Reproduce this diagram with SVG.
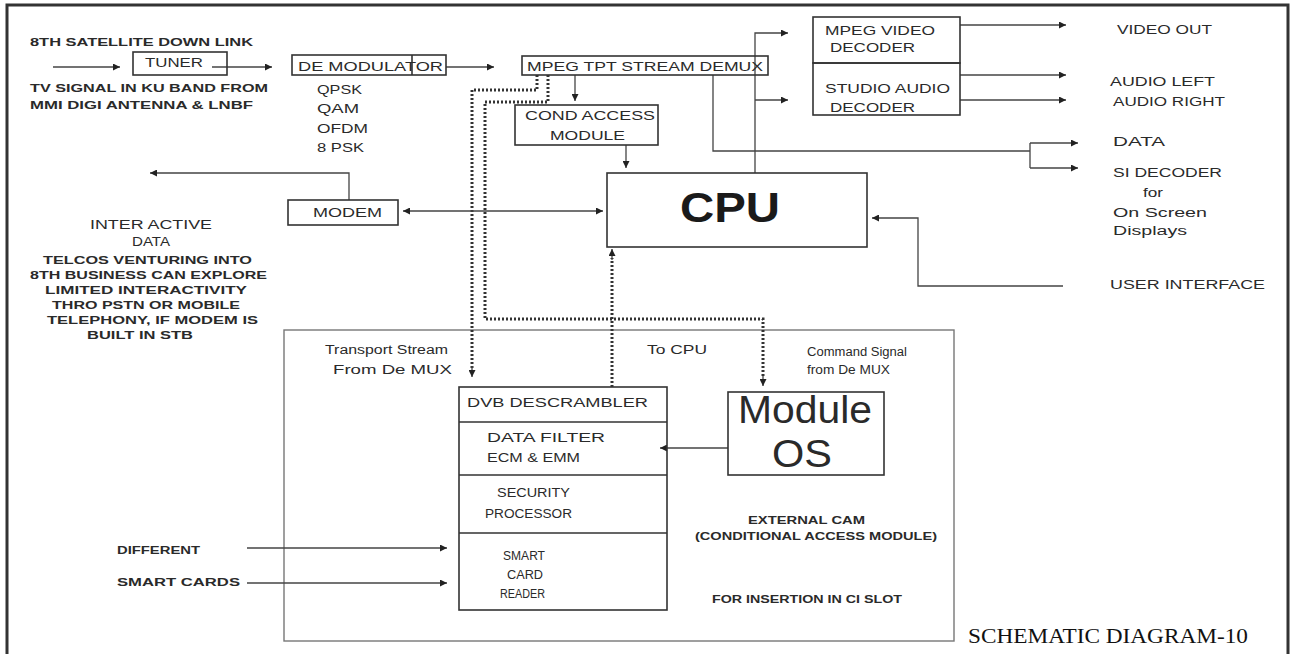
<svg xmlns="http://www.w3.org/2000/svg" width="1291" height="654" viewBox="0 0 1291 654">
<defs>
<style>
.bx{fill:none;stroke:#333;stroke-width:1.6}
.ln{fill:none;stroke:#444;stroke-width:1.3}
.dt{fill:none;stroke:#333;stroke-width:3;stroke-dasharray:2 2}
.t{font-family:"Liberation Sans",Arial,sans-serif;font-size:12px;fill:#2a2a2a}
.tb{font-family:"Liberation Sans",Arial,sans-serif;font-size:10px;font-weight:bold;fill:#2a2a2a}
.tm{font-family:"Liberation Sans",Arial,sans-serif;font-size:13px;fill:#2a2a2a}
.big{font-family:"Liberation Sans",Arial,sans-serif;font-size:38px;fill:#2a2a2a}
</style>
<marker id="arr" viewBox="0 0 10 10" refX="10" refY="5" markerWidth="9" markerHeight="7" markerUnits="userSpaceOnUse" orient="auto-start-reverse">
<path d="M0,0 L10,5 L0,10 z" fill="#222"/>
</marker>
</defs>
<rect width="1291" height="654" fill="#fff"/>
<path d="M7,654 V5 H1288 V654" fill="none" stroke="#333" stroke-width="3"/>

<g id="container-cam">
<rect x="284" y="330" width="670" height="311" fill="none" stroke="#777" stroke-width="1.4"/>
<text class="tb" x="748" y="524" textLength="117" lengthAdjust="spacingAndGlyphs">EXTERNAL CAM</text>
<text class="tb" x="695" y="540" textLength="242" lengthAdjust="spacingAndGlyphs">(CONDITIONAL ACCESS MODULE)</text>
<text class="tb" x="712" y="603" textLength="190" lengthAdjust="spacingAndGlyphs">FOR INSERTION IN CI SLOT</text>
</g>

<g id="connectors">
<path class="ln" d="M53,67 H120" marker-end="url(#arr)"/>
<path class="ln" d="M212,67 H272" marker-end="url(#arr)"/>
<path class="ln" d="M446,67 H494" marker-end="url(#arr)"/>
<path class="dt" d="M537,75 V90 H472 V368"/>
<path class="ln" d="M472,366 V377" marker-end="url(#arr)"/>
<path class="dt" d="M548,75 V102 H485 V319 H763 V378"/>
<path class="ln" d="M763,376 V386" marker-end="url(#arr)"/>
<path class="ln" d="M575,75 V101" marker-end="url(#arr)"/>
<path class="ln" d="M626,145 V168" marker-end="url(#arr)"/>
<path class="dt" d="M612,387 V258"/>
<path class="ln" d="M612,260 V249" marker-end="url(#arr)"/>
<path class="ln" d="M713,75 V151 H1030 M1030,143 V168"/>
<path class="ln" d="M1030,143 H1078" marker-end="url(#arr)"/>
<path class="ln" d="M1030,168 H1078" marker-end="url(#arr)"/>
<path class="ln" d="M755,173 V33 H788" marker-end="url(#arr)"/>
<path class="ln" d="M755,100 H788" marker-end="url(#arr)"/>
<path class="ln" d="M960,25 H1066" marker-end="url(#arr)"/>
<path class="ln" d="M960,75 H1066" marker-end="url(#arr)"/>
<path class="ln" d="M960,100 H1066" marker-end="url(#arr)"/>
<path class="ln" d="M1063,286 H918 V218 H872" marker-end="url(#arr)"/>
<path class="ln" d="M403,211 H603" marker-start="url(#arr)" marker-end="url(#arr)"/>
<path class="ln" d="M349,200 V173 H150" marker-end="url(#arr)"/>
<path class="ln" d="M728,448 H660" marker-end="url(#arr)"/>
<path class="ln" d="M247,548 H447" marker-end="url(#arr)"/>
<path class="ln" d="M247,583 H447" marker-end="url(#arr)"/>
</g>

<g id="labels-input">
<text class="tb" x="30" y="46" font-size="11" textLength="223" lengthAdjust="spacingAndGlyphs">8TH SATELLITE DOWN LINK</text>
<text class="tb" x="30" y="92" font-size="11" textLength="238" lengthAdjust="spacingAndGlyphs">TV SIGNAL IN KU BAND FROM</text>
<text class="tb" x="30" y="109" font-size="11" textLength="223" lengthAdjust="spacingAndGlyphs">MMI DIGI ANTENNA &amp; LNBF</text>
</g>

<g id="node-tuner">
<rect class="bx" x="133" y="52" width="94" height="23"/>
<text class="tm" x="145" y="66.5" textLength="58" lengthAdjust="spacingAndGlyphs">TUNER</text>
</g>

<g id="node-demodulator">
<rect class="bx" x="292" y="55" width="154" height="20"/>
<path class="bx" d="M412,55 V75" stroke-width="1"/>
<text class="tm" x="298" y="70.5" textLength="145" lengthAdjust="spacingAndGlyphs">DE MODULATOR</text>
<text class="t" x="317" y="94.3" textLength="45" lengthAdjust="spacingAndGlyphs">QPSK</text>
<text class="t" x="317" y="113.3" textLength="42" lengthAdjust="spacingAndGlyphs">QAM</text>
<text class="t" x="317" y="133.3" textLength="51" lengthAdjust="spacingAndGlyphs">OFDM</text>
<text class="t" x="317" y="152.3" textLength="47" lengthAdjust="spacingAndGlyphs">8 PSK</text>
</g>

<g id="node-demux">
<rect class="bx" x="522" y="56" width="246" height="19"/>
<text class="tm" x="527" y="70.5" textLength="236" lengthAdjust="spacingAndGlyphs">MPEG TPT STREAM DEMUX</text>
</g>

<g id="node-cond-access">
<rect class="bx" x="515" y="105" width="143" height="40"/>
<text class="tm" x="525" y="119.7" textLength="130" lengthAdjust="spacingAndGlyphs">COND ACCESS</text>
<text class="tm" x="550" y="139.7" textLength="75" lengthAdjust="spacingAndGlyphs">MODULE</text>
</g>

<g id="node-video-decoder">
<rect class="bx" x="813" y="17" width="147" height="46"/>
<text class="tm" x="825" y="34.7" textLength="110" lengthAdjust="spacingAndGlyphs">MPEG VIDEO</text>
<text class="tm" x="830" y="51.7" textLength="85" lengthAdjust="spacingAndGlyphs">DECODER</text>
</g>

<g id="node-audio-decoder">
<rect class="bx" x="813" y="63" width="147" height="52"/>
<text class="tm" x="825" y="92.7" textLength="125" lengthAdjust="spacingAndGlyphs">STUDIO AUDIO</text>
<text class="tm" x="830" y="111.7" textLength="85" lengthAdjust="spacingAndGlyphs">DECODER</text>
</g>

<g id="labels-outputs">
<text class="t" x="1117" y="34.3" textLength="95" lengthAdjust="spacingAndGlyphs">VIDEO OUT</text>
<text class="t" x="1110" y="86.3" textLength="105" lengthAdjust="spacingAndGlyphs">AUDIO LEFT</text>
<text class="t" x="1113" y="106.3" textLength="112" lengthAdjust="spacingAndGlyphs">AUDIO RIGHT</text>
<text class="t" x="1113" y="146.3" textLength="52" lengthAdjust="spacingAndGlyphs">DATA</text>
<text class="t" x="1113" y="177.3" textLength="109" lengthAdjust="spacingAndGlyphs">SI DECODER</text>
<text class="t" x="1143" y="197" textLength="20" lengthAdjust="spacingAndGlyphs">for</text>
<text class="t" x="1113" y="217" textLength="94" lengthAdjust="spacingAndGlyphs">On Screen</text>
<text class="t" x="1113" y="235" textLength="74" lengthAdjust="spacingAndGlyphs">Displays</text>
<text class="t" x="1110" y="289.3" textLength="155" lengthAdjust="spacingAndGlyphs">USER INTERFACE</text>
</g>

<g id="node-cpu">
<rect class="bx" x="607" y="173" width="260" height="74" stroke-width="2"/>
<text x="730" y="222" text-anchor="middle" font-family="Liberation Sans, Arial, sans-serif" font-size="42" font-weight="bold" fill="#1a1a1a" textLength="100" lengthAdjust="spacingAndGlyphs">CPU</text>
</g>

<g id="node-modem">
<rect class="bx" x="288" y="200" width="110" height="25" stroke-width="2"/>
<text class="t" x="313" y="217.3" textLength="69" lengthAdjust="spacingAndGlyphs">MODEM</text>
</g>

<g id="labels-interactive">
<text class="t" x="90" y="229.3" textLength="122" lengthAdjust="spacingAndGlyphs">INTER ACTIVE</text>
<text class="t" x="132" y="246.3" textLength="38" lengthAdjust="spacingAndGlyphs">DATA</text>
<text class="tb" x="43" y="263.6" textLength="209" lengthAdjust="spacingAndGlyphs">TELCOS VENTURING INTO</text>
<text class="tb" x="30" y="278.6" textLength="237" lengthAdjust="spacingAndGlyphs">8TH BUSINESS CAN EXPLORE</text>
<text class="tb" x="45" y="293.6" textLength="202" lengthAdjust="spacingAndGlyphs">LIMITED INTERACTIVITY</text>
<text class="tb" x="52" y="308.6" textLength="188" lengthAdjust="spacingAndGlyphs">THRO PSTN OR MOBILE</text>
<text class="tb" x="47" y="323.6" textLength="211" lengthAdjust="spacingAndGlyphs">TELEPHONY, IF MODEM IS</text>
<text class="tb" x="87" y="338.6" textLength="106" lengthAdjust="spacingAndGlyphs">BUILT IN STB</text>
</g>

<g id="labels-signals">
<text class="t" x="325" y="354" textLength="123" lengthAdjust="spacingAndGlyphs">Transport Stream</text>
<text class="t" x="333" y="374" textLength="119" lengthAdjust="spacingAndGlyphs">From De MUX</text>
<text class="t" x="647" y="354" textLength="60" lengthAdjust="spacingAndGlyphs">To CPU</text>
<text class="t" x="807" y="356" textLength="100" lengthAdjust="spacingAndGlyphs">Command Signal</text>
<text class="t" x="807" y="374" textLength="83" lengthAdjust="spacingAndGlyphs">from De MUX</text>
</g>

<g id="node-cam-stack">
<rect class="bx" x="459" y="387" width="208" height="223"/>
<path class="bx" d="M459,422 H667 M459,475 H667 M459,533 H667"/>
<text class="t" x="467" y="407.3" textLength="181" lengthAdjust="spacingAndGlyphs">DVB DESCRAMBLER</text>
<text class="t" x="487" y="442.3" textLength="118" lengthAdjust="spacingAndGlyphs">DATA FILTER</text>
<text class="t" x="487" y="462.3" textLength="93" lengthAdjust="spacingAndGlyphs">ECM &amp; EMM</text>
<text class="t" x="497" y="497.3" textLength="73" lengthAdjust="spacingAndGlyphs">SECURITY</text>
<text class="t" x="485" y="518.3" textLength="87" lengthAdjust="spacingAndGlyphs">PROCESSOR</text>
<text class="t" x="503" y="560.3" textLength="42" lengthAdjust="spacingAndGlyphs">SMART</text>
<text class="t" x="507" y="579.3" textLength="36" lengthAdjust="spacingAndGlyphs">CARD</text>
<text class="t" x="500" y="598.3" textLength="45" lengthAdjust="spacingAndGlyphs">READER</text>
</g>

<g id="node-module-os">
<rect class="bx" x="728" y="392" width="156" height="83"/>
<text class="big" x="805" y="423" text-anchor="middle" textLength="134" lengthAdjust="spacingAndGlyphs">Module</text>
<text class="big" x="802" y="467" text-anchor="middle" textLength="60" lengthAdjust="spacingAndGlyphs">OS</text>
</g>

<g id="labels-cards">
<text class="tb" x="117" y="553.6" textLength="83" lengthAdjust="spacingAndGlyphs">DIFFERENT</text>
<text class="tb" x="117" y="585.6" textLength="123" lengthAdjust="spacingAndGlyphs">SMART CARDS</text>
</g>

<text x="968" y="643" font-family="Liberation Serif, Times New Roman, serif" font-size="20" fill="#111" textLength="280" lengthAdjust="spacingAndGlyphs">SCHEMATIC DIAGRAM-10</text>
</svg>
